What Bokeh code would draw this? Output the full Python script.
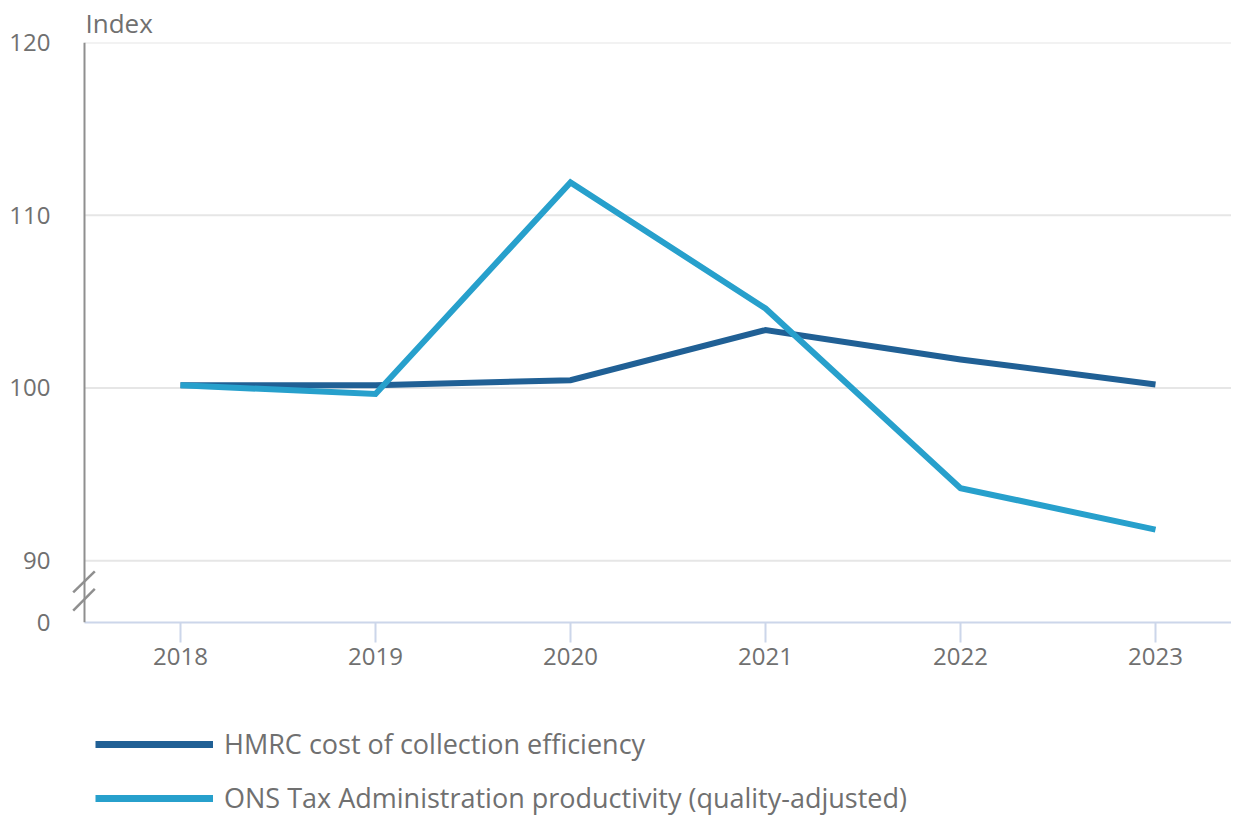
from bokeh.plotting import figure
from bokeh.layouts import column
from bokeh.models import (Range1d, FixedTicker, CustomJSTickFormatter, Legend,
                          LegendItem, Arrow, Span, Title)
from bokeh.embed import file_html
from bokeh.resources import INLINE

# ---- data ----
years = [2018, 2019, 2020, 2021, 2022, 2023]
hmrc = [100.15, 100.15, 100.45, 103.35, 101.65, 100.2]
ons = [100.15, 99.65, 111.9, 104.6, 94.2, 91.8]
y_ticks = [90, 100, 110, 120]
break_value = 86.42          # position where the broken axis shows "0"
series_names = ["HMRC cost of collection efficiency",
                "ONS Tax Administration productivity (quality-adjusted)"]
y_title = "Index"

DARK = "#206095"
LIGHT = "#27a0cc"
COLORS = [DARK, LIGHT]
SERIES = [hmrc, ons]
TEXT = "#707070"
FONT = "Open Sans"
AXIS_GREY = "#8f8f8f"
AXIS_BLUE = "#ccd6ea"

W = 1231
H1, H2 = 700, 118
LEFT, TOP, BOTTOM = 70, 40, 78
frame_w = W - LEFT
frame_h = H1 - TOP - BOTTOM
ppx = 195.0                              # pixels per year
x0 = years[0] - 110 / ppx                # frame left
x1 = x0 + frame_w / ppx                  # frame right
axis_x = years[0] - 96 / ppx             # where the y axis line sits
ppy = frame_h / (120 - break_value)

p = figure(width=W, height=H1, output_backend="svg", toolbar_location=None,
           x_range=Range1d(x0, x1), y_range=Range1d(break_value, 120),
           min_border_left=LEFT, min_border_top=TOP, min_border_right=0,
           min_border_bottom=BOTTOM)
p.outline_line_color = None
p.xgrid.grid_line_color = None
p.ygrid.grid_line_color = None

# gridlines (start at the y axis line)
p.segment(x0=[axis_x] * len(y_ticks), y0=y_ticks,
          x1=[x1] * len(y_ticks), y1=y_ticks,
          line_color="#e6e6e6", line_width=2)

for vals, col in zip(SERIES, COLORS):
    p.line(years, vals, line_color=col, line_width=6, line_join="miter")

# x axis
xa = p.xaxis[0]
xa.ticker = FixedTicker(ticks=years)
xa.bounds = (axis_x, x1)
xa.axis_line_color = AXIS_BLUE
xa.axis_line_width = 2
xa.major_tick_line_color = AXIS_BLUE
xa.major_tick_line_width = 2
xa.major_tick_out = 20
xa.major_tick_in = 0
xa.minor_tick_line_color = None
xa.major_label_standoff = 5
xa.major_label_text_font = FONT
xa.major_label_text_font_size = "24px"
xa.major_label_text_color = TEXT

# y axis (labels from Bokeh's axis, line drawn at axis_x)
ya = p.yaxis[0]
ya.ticker = FixedTicker(ticks=[break_value] + y_ticks)
ya.formatter = CustomJSTickFormatter(code="return tick < 89 ? '0' : tick.toFixed(0);")
ya.axis_line_color = None
ya.major_tick_line_color = None
ya.minor_tick_line_color = None
ya.major_label_standoff = 14
ya.major_label_text_font = FONT
ya.major_label_text_font_size = "24px"
ya.major_label_text_color = TEXT
p.add_layout(Span(location=axis_x, dimension="height",
                  line_color=AXIS_GREY, line_width=2))

# axis break marks
for lo, hi in ((30.3, 51.3), (12.0, 33.7)):
    p.add_layout(Arrow(end=None,
                       x_start=axis_x - 11.3 / ppx, y_start=break_value + lo / ppy,
                       x_end=axis_x + 10.3 / ppx, y_end=break_value + hi / ppy,
                       line_color=AXIS_GREY, line_width=2.5))

# "Index" title
p.add_layout(Title(text=y_title, align="left", offset=15, standoff=4,
                   text_font=FONT, text_font_size="26px", text_color=TEXT,
                   text_font_style="normal"), "above")

# legend in its own strip below the chart (series drawn out of view there)
lg = figure(width=W, height=H2, output_backend="svg", toolbar_location=None,
            x_range=Range1d(0, 1), y_range=Range1d(0, 1),
            x_axis_type=None, y_axis_type=None, min_border=0)
lg.outline_line_color = None
lg.grid.visible = False
items = []
for name, vals, col in zip(series_names, SERIES, COLORS):
    rr = lg.line(years, vals, line_color=col, line_width=7)
    items.append(LegendItem(label=name, renderers=[rr]))
legend = Legend(items=items, location=(25, 2), orientation="vertical",
                glyph_width=118, glyph_height=30,
                label_standoff=11, spacing=17, padding=0, margin=0,
                border_line_color=None, background_fill_alpha=0,
                label_text_font=FONT, label_text_font_size="27px",
                label_text_color=TEXT)
lg.add_layout(legend, "center")

page = column(p, lg, spacing=0)
open("out.html", "w").write(file_html(page, INLINE))
